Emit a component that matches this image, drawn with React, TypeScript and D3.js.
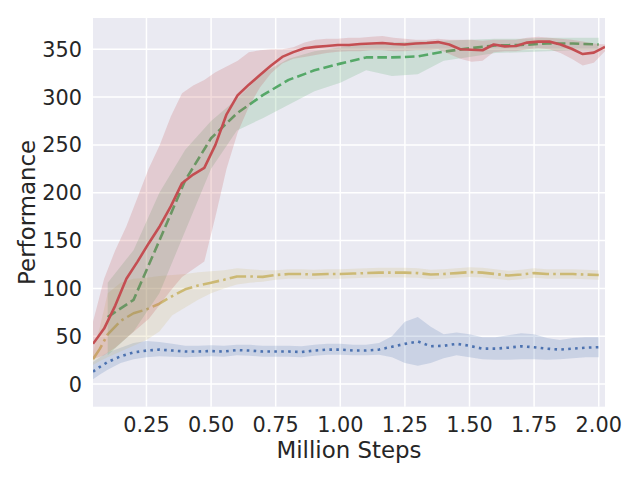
import React from 'react'
import * as d3 from 'd3'

// x positions (million steps)
const redSteps = [
  0.0431, 0.0861, 0.1292, 0.1723, 0.2154, 0.2584, 0.3015, 0.3446, 0.3876, 0.4307,
  0.4738, 0.5168, 0.5599, 0.603, 0.6461, 0.6891, 0.7322, 0.7753, 0.8183, 0.8614,
  0.9045, 0.9475, 0.9906, 1.0337, 1.0768, 1.1198, 1.1629, 1.206, 1.249, 1.2921,
  1.3352, 1.3782, 1.4213, 1.4644, 1.5075, 1.5505, 1.5936, 1.6367, 1.6797, 1.7228,
  1.7659, 1.8089, 1.852, 1.8951, 1.9382, 1.9812, 2.0243
]
const greenSteps = [0.1, 0.2, 0.3, 0.4, 0.5, 0.6, 0.7, 0.8, 0.9, 1.0, 1.1, 1.2, 1.3, 1.4, 1.5, 1.6, 1.7, 1.8, 1.9, 2.0]
const fineSteps = [
  0.0431, 0.07, 0.1, 0.15, 0.2, 0.25, 0.3, 0.35, 0.4, 0.45, 0.5, 0.55, 0.6, 0.65, 0.7,
  0.75, 0.8, 0.85, 0.9, 0.95, 1.0, 1.05, 1.1, 1.15, 1.2, 1.25, 1.3, 1.35, 1.4, 1.45,
  1.5, 1.55, 1.6, 1.65, 1.7, 1.75, 1.8, 1.85, 1.9, 1.95, 2.0
]

const redMean = [
  42, 58, 82, 110, 128, 147, 165, 186, 210, 219, 226, 250, 282, 302, 313, 323, 333, 342, 347, 351,
  352.5, 353.5, 354.5, 354.5, 355.5, 356, 356.5, 355.5, 355, 356, 356.5, 357.5, 355, 350, 349.5, 349,
  355, 353, 353.5, 357, 358, 358, 355, 350.5, 345, 346.5, 352.5
]
const redHigh = [
  65, 110, 140, 165, 195, 225, 250, 280, 304, 312, 318, 326, 332, 338, 347, 349, 350, 350, 352, 357,
  360, 361, 361, 362, 362, 363, 364, 362, 361, 360, 360, 361, 360, 360, 360, 359,
  360, 360, 360, 362, 363, 362, 361, 360, 358, 356, 355
]
const redLow = [
  26, 30, 38, 48, 58, 68, 83, 98, 112, 120, 128, 175, 225, 263, 290, 310, 325, 335, 340, 342,
  344, 346, 347.5, 348, 348, 349, 349, 348, 348, 349, 349, 350, 345, 340, 337, 338,
  347, 348, 348, 350, 351, 350, 346, 340, 333, 336, 348
]

const greenMean = [70, 88, 150, 213, 257, 283, 302, 318, 328, 335, 341.5, 341.5, 342.5, 347.5, 351, 354, 354.5, 356, 356, 355]
const greenHigh = [106, 140, 200, 245, 275, 298, 325, 340, 348, 352, 356, 357, 358, 359, 360, 361, 361, 362, 362, 362]
const greenLow = [30, 55, 95, 160, 225, 265, 278, 292, 306, 315, 328, 322, 324, 338, 342, 346, 347, 348, 349, 349]

const yellowMean = [
  26, 37, 52, 66, 74, 78, 84, 92, 99, 103, 106, 109, 112.5, 112.5, 112, 114, 115, 115, 114.5, 115,
  115, 115.5, 116, 116.5, 116.5, 116.5, 116, 114.5, 115, 116, 117, 116.5, 115, 113.5, 114.5, 116,
  115, 115, 115, 114.5, 114
]
const yellowHigh = [
  33, 60, 95, 106, 110, 111, 113, 114, 115, 117, 118, 119, 121, 120, 119, 119, 120, 120, 119.5, 120,
  120, 120.5, 121, 121.5, 121.5, 121.5, 121, 119.5, 120, 121, 122, 121.5, 120, 118.5, 119.5, 121,
  120, 120, 120, 119.5, 119
]
const yellowLow = [
  20, 24, 28, 34, 40, 46, 55, 72, 80, 88, 95, 100, 104, 106, 107, 109, 110, 110, 109.5, 110,
  110, 110.5, 111, 111.5, 111.5, 111.5, 111, 109.5, 110, 111, 112, 111.5, 110, 108.5, 109.5, 111,
  110, 110, 110, 109.5, 109
]

const blueMean = [
  13, 18, 23, 29, 33, 35, 36, 35, 34, 34, 34.5, 34, 35.5, 35, 34, 34, 34, 33.5, 35, 36,
  36, 35, 35, 36, 39, 42, 44.5, 39.5, 40, 42, 40, 37, 37, 38, 39.5, 38.5, 37, 36, 37, 38, 38.5
]
const blueHigh = [
  23, 28, 33, 38, 43, 45, 44, 42, 40, 40, 40.5, 40, 41, 41, 40, 40, 40, 39.5, 41, 42,
  42, 41, 41, 43, 50, 65, 70, 60, 52, 54, 52, 49, 49, 51, 53, 52, 48, 46, 48, 49, 49
]
const blueLow = [
  5, 10, 15, 22, 26, 28, 29, 28.5, 28, 28.5, 29, 28.5, 30, 29.5, 28.5, 28.5, 28.5, 28, 29.5, 30.5,
  30.5, 30, 30, 30.5, 28, 22, 19, 22, 27, 30, 28, 26, 25.5, 25.5, 26, 26, 25.5, 26, 27, 28, 28
]

const xTicks = [0.25, 0.5, 0.75, 1.0, 1.25, 1.5, 1.75, 2.0]
const yTicks = [0, 50, 100, 150, 200, 250, 300, 350]
const yExtent = [-23.7, 382.7]

const series = [
  { name: 'blue', color: '#4C72B0', steps: fineSteps, mean: blueMean, low: blueLow, high: blueHigh, dash: '2.6 4.3' },
  { name: 'yellow', color: '#CCB974', steps: fineSteps, mean: yellowMean, low: yellowLow, high: yellowHigh, dash: '16.6 4.2 2.6 4.2' },
  { name: 'green', color: '#55A868', steps: greenSteps, mean: greenMean, low: greenLow, high: greenHigh, dash: '9.6 4.2' },
  { name: 'red', color: '#C44E52', steps: redSteps, mean: redMean, low: redLow, high: redHigh, dash: null }
]

const W = 640
const H = 480
const margin = { top: 18, right: 35, bottom: 73.3, left: 93 }
const font = 'DejaVu Sans, sans-serif'
const textColor = '#262626'

const App = () => {
  const innerW = W - margin.left - margin.right
  const innerH = H - margin.top - margin.bottom

  const x = d3.scaleLinear().domain(d3.extent(redSteps) as [number, number]).range([0, innerW])
  const y = d3.scaleLinear().domain(yExtent).range([innerH, 0])

  const area = d3
    .area<[number, number, number]>()
    .x(d => x(d[0]))
    .y0(d => y(d[1]))
    .y1(d => y(d[2]))
  const line = d3
    .line<[number, number]>()
    .x(d => x(d[0]))
    .y(d => y(d[1]))

  return (
    <svg width={W} height={H} style={{ position: 'absolute', left: 0, top: 0, background: '#fff' }}>
      <defs>
        <clipPath id="plot">
          <rect x={0} y={0} width={innerW} height={innerH} />
        </clipPath>
      </defs>
      <g transform={`translate(${margin.left},${margin.top})`}>
        <rect x={0} y={0} width={innerW} height={innerH} fill="#EAEAF2" />
        {xTicks.map(t => (
          <line key={'gx' + t} x1={x(t)} x2={x(t)} y1={0} y2={innerH} stroke="#fff" strokeWidth={1.5} />
        ))}
        {yTicks.map(t => (
          <line key={'gy' + t} x1={0} x2={innerW} y1={y(t)} y2={y(t)} stroke="#fff" strokeWidth={1.5} />
        ))}
        <g clipPath="url(#plot)">
          {series.map(s => {
            const band = s.steps.map((v, i) => [v, s.low[i], s.high[i]] as [number, number, number])
            const pts = s.steps.map((v, i) => [v, s.mean[i]] as [number, number])
            return (
              <g key={s.name}>
                <path d={area(band) || ''} fill={s.color} fillOpacity={0.2} stroke="none" />
                <path
                  d={line(pts) || ''}
                  fill="none"
                  stroke={s.color}
                  strokeWidth={2.6}
                  strokeDasharray={s.dash || undefined}
                  strokeLinejoin="round"
                />
              </g>
            )
          })}
        </g>
        {xTicks.map(t => (
          <text
            key={'tx' + t}
            x={x(t)}
            y={innerH + 25.5}
            textAnchor="middle"
            fontFamily={font}
            fontSize={20.8}
            fill={textColor}
          >
            {d3.format('.2f')(t)}
          </text>
        ))}
        {yTicks.map(t => (
          <text
            key={'ty' + t}
            x={-11}
            y={y(t) + 7.5}
            textAnchor="end"
            fontFamily={font}
            fontSize={20.8}
            fill={textColor}
          >
            {t}
          </text>
        ))}
        <text
          x={innerW / 2}
          y={innerH + 51.5}
          textAnchor="middle"
          fontFamily={font}
          fontSize={22.9}
          fill={textColor}
        >
          Million Steps
        </text>
        <text
          transform={`translate(${35 - margin.left},${innerH / 2}) rotate(-90)`}
          textAnchor="middle"
          fontFamily={font}
          fontSize={22.9}
          fill={textColor}
        >
          Performance
        </text>
      </g>
    </svg>
  )
}

export default App
